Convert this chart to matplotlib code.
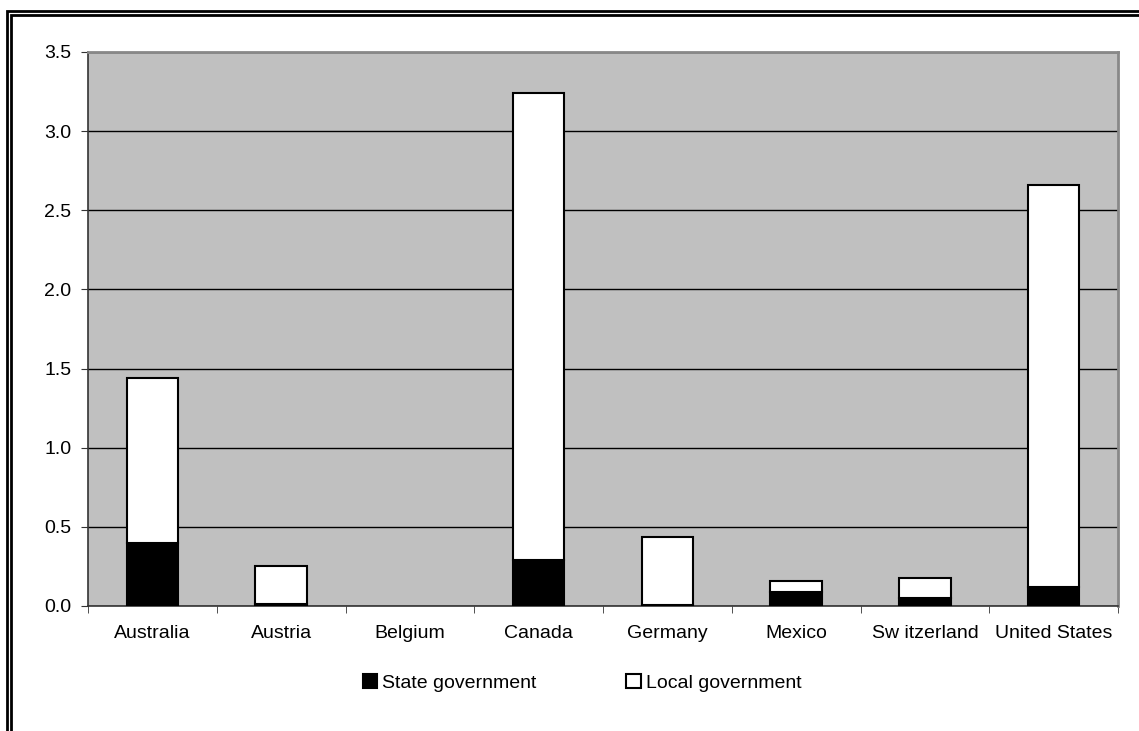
import numpy as np
import matplotlib
matplotlib.use("Agg")
import matplotlib.pyplot as plt
from matplotlib.patches import Rectangle

plt.rcParams['font.family'] = ['Liberation Sans', 'DejaVu Sans']

countries = ["Australia", "Austria", "Belgium", "Canada", "Germany",
             "Mexico", "Sw itzerland", "United States"]
state_gov = [0.40, 0.015, 0.0, 0.29, 0.005, 0.087, 0.05, 0.12]
local_gov = [1.04, 0.235, 0.0, 2.95, 0.43, 0.069, 0.13, 2.54]

fig = plt.figure(figsize=(11.39, 7.31), dpi=100)
ax = fig.add_axes([88 / 1139, 125 / 731, (1118 - 88) / 1139, (606 - 52) / 731])

x = np.arange(len(countries))
# no outline for empty bars (Belgium)
lw_state = [1.5 if v > 0 else 0 for v in state_gov]
lw_local = [1.5 if v > 0 else 0 for v in local_gov]
ax.bar(x, state_gov, width=0.4, color="black", edgecolor="black", linewidth=lw_state,
       label="State government", zorder=3)
ax.bar(x, local_gov, width=0.4, bottom=state_gov, color="white", edgecolor="black",
       linewidth=lw_local, label="Local government", zorder=3)

ax.set_facecolor("#C0C0C0")
ax.set_xlim(-0.5, len(countries) - 0.5)
ax.set_ylim(0, 3.5)
ax.set_yticks(np.arange(0, 3.51, 0.5))
ax.set_yticklabels([f"{v:.1f}" for v in np.arange(0, 3.51, 0.5)])
ax.yaxis.grid(True, color="black", linewidth=1.0, zorder=1)
ax.set_axisbelow(True)

ax.set_xticks(x)
ax.set_xticklabels(countries)
ax.set_xticks(np.arange(-0.5, len(countries), 1), minor=True)
ax.tick_params(axis="x", which="major", length=0, labelsize=14, pad=14)
ax.tick_params(axis="x", which="minor", length=5, color="#333333", direction="out")
ax.tick_params(axis="y", length=5, color="#333333", labelsize=14, pad=7)

for side in ["left", "bottom"]:
    ax.spines[side].set_color("#333333")
    ax.spines[side].set_linewidth(1.2)
for side in ["top", "right"]:
    ax.spines[side].set_color("#888888")
    ax.spines[side].set_linewidth(2)

fig.legend(loc="center", bbox_to_anchor=(582 / 1139, 1 - 683 / 731), ncol=2, frameon=False,
           fontsize=14, handlelength=0.75, handleheight=0.7, handletextpad=0.25,
           columnspacing=4.6)

# double frame around the chart
for off in (7, 11):
    fig.patches.append(Rectangle((off / 1139, -0.05), 1.2, 1 - (off + 4) / 731 + 0.05,
                                 transform=fig.transFigure, fill=False,
                                 edgecolor="black", linewidth=2))

fig.savefig("out.png", dpi=100)
